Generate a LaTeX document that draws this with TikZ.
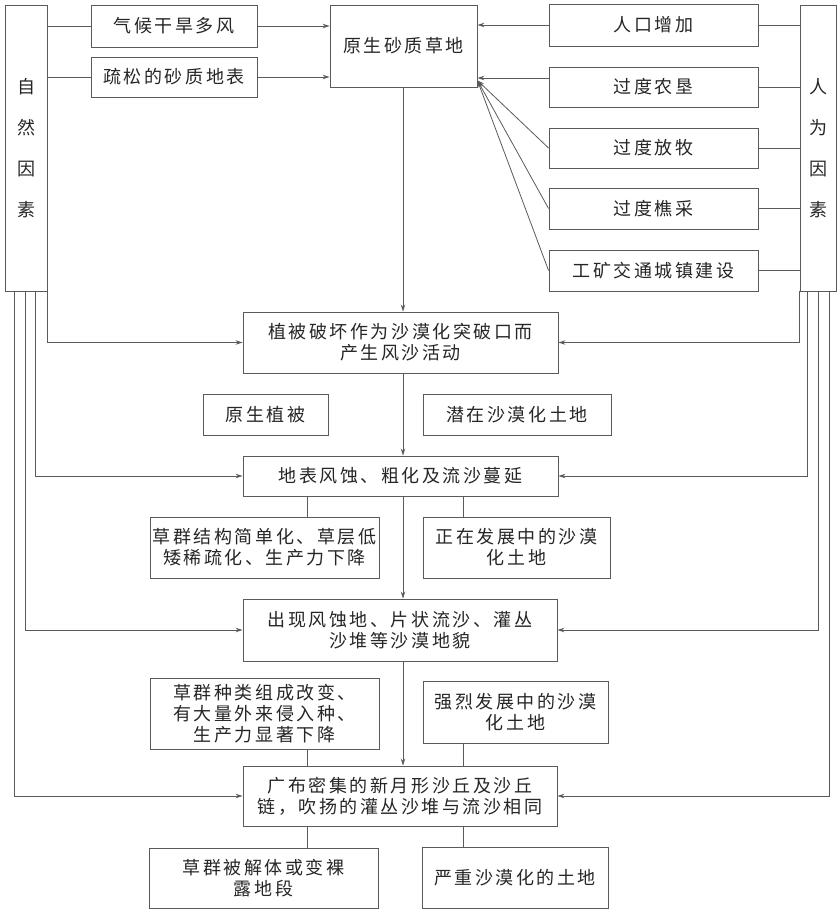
\documentclass[tikz,border=0pt]{standalone}
\usepackage{fontspec}
\newfontfamily\cjk[LetterSpace=14]{Noto Sans CJK SC}
\usetikzlibrary{arrows.meta,calc}
\definecolor{linec}{HTML}{5A5A5A}
\definecolor{textc}{HTML}{262626}
\tikzset{
  box/.style={draw=linec, line width=0.9pt, inner sep=0pt, align=center, text=textc,
    font={\cjk\fontsize{18}{21}\selectfont}},
  sidebox/.style={box, font={\cjk\fontsize{18}{41}\selectfont}},
  arr/.style={draw=linec, line width=0.8pt, -{Stealth[length=7pt,width=4.5pt]}},
  ln/.style={draw=linec, line width=0.8pt},
}
\newcommand\bx[7][box]{\node[#1, minimum width={(#5-#3)*1pt}, minimum height={(#6-#4)*1pt}] (#2) at ({(#3+#5)/2},{(#4+#6)/2}) {#7};}
\begin{document}
\begin{tikzpicture}[x=1pt,y=-1pt]
\fill[white] (0,0) rectangle (837,910);
\useasboundingbox (0,0) rectangle (837,910);
% side boxes
\bx[sidebox]{ziran}{5}{5}{47}{291}{自\\然\\因\\素}
\bx[sidebox]{renwei}{800}{5}{836}{291}{人\\为\\因\\素}
% top
\bx{qihou}{91}{5}{257}{47}{气候干旱多风}
\bx{shusong}{91}{57}{257}{97}{疏松的砂质地表}
\bx{yuansheng}{330}{5}{477}{87}{原生砂质草地}
\bx{renkou}{549}{4}{758}{46}{人口增加}
\bx{nongken}{549}{67}{758}{107}{过度农垦}
\bx{fangmu}{549}{128}{758}{168}{过度放牧}
\bx{qiaocai}{549}{188}{758}{229}{过度樵采}
\bx{gongkuang}{549}{250}{758}{291}{工矿交通城镇建设}
% middle column
\bx{pohuai}{243}{312}{558}{373}{植被破坏作为沙漠化突破口而\\产生风沙活动}
\bx{yszb}{203}{394}{328}{435}{原生植被}
\bx{qianzai}{423}{394}{611}{435}{潜在沙漠化土地}
\bx{dibiao}{243}{456}{558}{496}{地表风蚀、粗化及流沙蔓延}
\bx{caoqun1}{150}{517}{379}{578}{草群结构简单化、草层低\\矮稀疏化、生产力下降}
\bx{zhengzai}{423}{517}{610}{578}{正在发展中的沙漠\\化土地}
\bx{chuxian}{243}{599}{557}{661}{出现风蚀地、片状流沙、灌丛\\沙堆等沙漠地貌}
\bx{caoqun2}{150}{678}{379}{749}{草群种类组成改变、\\有大量外来侵入种、\\生产力显著下降}
\bx{qianglie}{423}{681}{608}{743}{强烈发展中的沙漠\\化土地}
\bx{guangbu}{243}{766}{557}{826}{广布密集的新月形沙丘及沙丘\\链，吹扬的灌丛沙堆与流沙相同}
\bx{jieti}{149}{848}{378}{908}{草群被解体或变裸\\露地段}
\bx{yanzhong}{422}{847}{608}{908}{严重沙漠化的土地}
% helper coordinates
\coordinate (xm) at (403,0);
\coordinate (xl) at (307,0);
\coordinate (xr) at (463,0);
\coordinate (conv) at ($(yuansheng.south east)+(0,-7)$);
\coordinate (nk) at ($(nongken.west)+(0,-9)$);
% natural factors
\draw[ln] (qihou.west -| ziran.east) -- (qihou.west);
\draw[ln] (shusong.west -| ziran.east) -- (shusong.west);
\draw[arr] (qihou.east) -- (qihou.east -| yuansheng.west);
\draw[arr] (shusong.east) -- (shusong.east -| yuansheng.west);
% human factors
\draw[ln] (renkou.east) -- (renkou.east -| renwei.west);
\draw[ln] (nongken.east) -- (nongken.east -| renwei.west);
\draw[ln] (fangmu.east) -- (fangmu.east -| renwei.west);
\draw[ln] (qiaocai.east) -- (qiaocai.east -| renwei.west);
\draw[ln] (gongkuang.east) -- (gongkuang.east -| renwei.west);
\draw[arr] (renkou.west) -- (renkou.west -| yuansheng.east);
\draw[arr] (nk) -- (nk -| yuansheng.east);
\draw[arr] (fangmu.west) -- (conv);
\draw[arr] (qiaocai.west) -- (conv);
\draw[arr] (gongkuang.west) -- (conv);
% main flow
\draw[arr] (yuansheng.south -| xm) -- (pohuai.north -| xm);
\draw[arr] (pohuai.south -| xm) -- (dibiao.north -| xm);
\draw[arr] (dibiao.south -| xm) -- (chuxian.north -| xm);
\draw[arr] (chuxian.south -| xm) -- (guangbu.north -| xm);
% side branches
\draw[ln] (dibiao.south -| xl) -- (caoqun1.north -| xl);
\draw[ln] (dibiao.south -| xr) -- (zhengzai.north -| xr);
\draw[ln] (caoqun2.south -| xl) -- (guangbu.north -| xl);
\draw[ln] (qianglie.south -| xr) -- (guangbu.north -| xr);
\draw[ln] (guangbu.south -| xl) -- (jieti.north -| xl);
\draw[ln] (guangbu.south -| xr) -- (yanzhong.north -| xr);
% long lines from the left box
\draw[arr] (ziran.south east) |- (pohuai.west);
\draw[arr] (ziran.south west) ++(31,0) |- (dibiao.west);
\draw[arr] (ziran.south west) ++(21,0) |- (chuxian.west);
\draw[arr] (ziran.south west) ++(10,0) |- (guangbu.west);
% long lines from the right box
\draw[arr] (renwei.south west) |- (pohuai.east);
\draw[arr] (renwei.south west) ++(8,0) |- (dibiao.east);
\draw[arr] (renwei.south west) ++(19,0) |- (chuxian.east);
\draw[arr] (renwei.south west) ++(30,0) |- (guangbu.east);
\end{tikzpicture}
\end{document}
